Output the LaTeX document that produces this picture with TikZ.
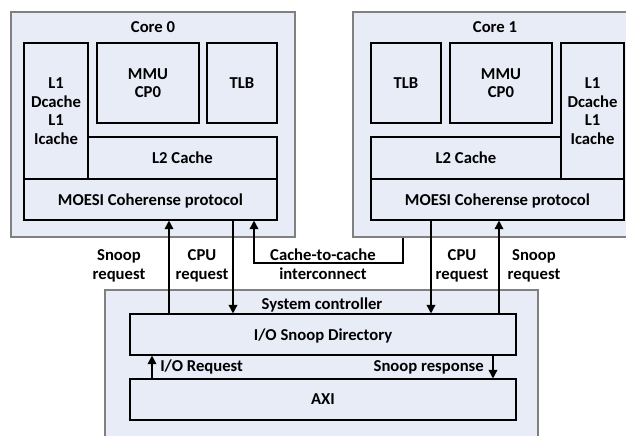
\documentclass[tikz,border=0pt]{standalone}
\usepackage{fontspec}
\setmainfont{Carlito}
\usetikzlibrary{arrows.meta}
\definecolor{panel}{HTML}{E7ECF6}
\definecolor{frame}{HTML}{808080}
\newcommand\labelfont{\fontsize{12.5}{14}\selectfont\bfseries}
\tikzset{
  outer/.style={draw=frame, line width=1.3pt, fill=panel},
  blk/.style={draw=black, line width=0.8pt, fill=panel, rectangle, inner sep=0pt,
    align=center, font=\labelfont, text depth=0pt},
  lbl/.style={inner sep=0pt, align=center, font=\labelfont},
  arr/.style={line width=1.2pt, -{Triangle[length=6.5pt,width=6.5pt]}},
}
% box from corner (x1,y1) to (x2,y2), in pixel units
\newcommand\blockbox[6]{%
  \node[blk, minimum width={(#4-#2)*0.75pt}, minimum height={(#5-#3)*0.75pt}]
    (#1) at ({(#2+#4)/2},{(#3+#5)/2}) {#6};}
\begin{document}
\begin{tikzpicture}[x=0.75pt, y=-0.75pt]
\useasboundingbox (0,0) rectangle (626,436);
\clip (0,0) rectangle (626,436);

% outer frames
\node[outer, inner sep=0pt, minimum width={284*0.75pt}, minimum height={225*0.75pt}]
  (core0) at (153,124.5) {};
\node[outer, inner sep=0pt, minimum width={284*0.75pt}, minimum height={225*0.75pt}]
  (core1) at (495,124.5) {};
\node[outer, inner sep=0pt, minimum width={433*0.75pt}, minimum height={160*0.75pt}]
  (sysc) at (321.5,370) {};

\node[lbl] (c0t) at (153,27) {Core 0};
\node[lbl] (c1t) at (495,27) {Core 1};
\node[lbl] (sct) at (322,305) {System controller};

% Core 0
\blockbox{l1a}{24}{43}{88}{179}{L1\\Dcache\\L1\\Icache}
\blockbox{mmua}{97}{43}{199}{123}{MMU\\CP0}
\blockbox{tlba}{207}{43}{277}{123}{TLB}
\blockbox{l2a}{88}{137}{277}{179}{L2 Cache}
\blockbox{moa}{24}{179}{277}{220}{MOESI Coherense protocol}

% Core 1
\blockbox{tlbb}{371}{43}{441}{123}{TLB}
\blockbox{mmub}{450}{43}{552}{123}{MMU\\CP0}
\blockbox{l1b}{561}{43}{624}{179}{L1\\Dcache\\L1\\Icache}
\blockbox{l2b}{371}{137}{561}{179}{L2 Cache}
\blockbox{mob}{371}{179}{624}{220}{MOESI Coherense protocol}

% System controller
\blockbox{isd}{130}{314}{516}{355}{I/O Snoop Directory}
\blockbox{axi}{130}{379}{516}{420}{AXI}

% connector columns
\coordinate (xsa) at (169,0);
\coordinate (xca) at (233,0);
\coordinate (xcc) at (254,0);
\coordinate (xcb) at (431,0);
\coordinate (xsb) at (499,0);
\coordinate (xio) at (152,0);
\coordinate (xsr) at (493,0);
\coordinate (ccl) at (254,263);
\coordinate (ccr) at (403,263);

\draw[arr] (isd.north -| xsa) -- (moa.south -| xsa);
\draw[arr] (moa.south -| xca) -- (isd.north -| xca);
\draw[arr] (mob.south -| xcb) -- (isd.north -| xcb);
\draw[arr] (isd.north -| xsb) -- (mob.south -| xsb);
\draw[arr] (core1.south -| ccr) -- (ccr) -- (ccl) -- (moa.south -| xcc);
\draw[arr] (axi.north -| xio) -- (isd.south -| xio);
\draw[arr] (isd.south -| xsr) -- (axi.north -| xsr);

% connector labels
\node[lbl] (snpa) at (119,266) {Snoop\\request};
\node[lbl] (cpua) at (202,266) {CPU\\request};
\node[lbl] (cctx) at (323,264) {Cache-to-cache\\interconnect};
\node[lbl] (cpub) at (462,266) {CPU\\request};
\node[lbl] (snpb) at (534,266) {Snoop\\request};
\node[lbl, anchor=west] (ioq) at (160,367) {I/O Request};
\node[lbl, anchor=east] (snr) at (484,367) {Snoop response};
\end{tikzpicture}
\end{document}
